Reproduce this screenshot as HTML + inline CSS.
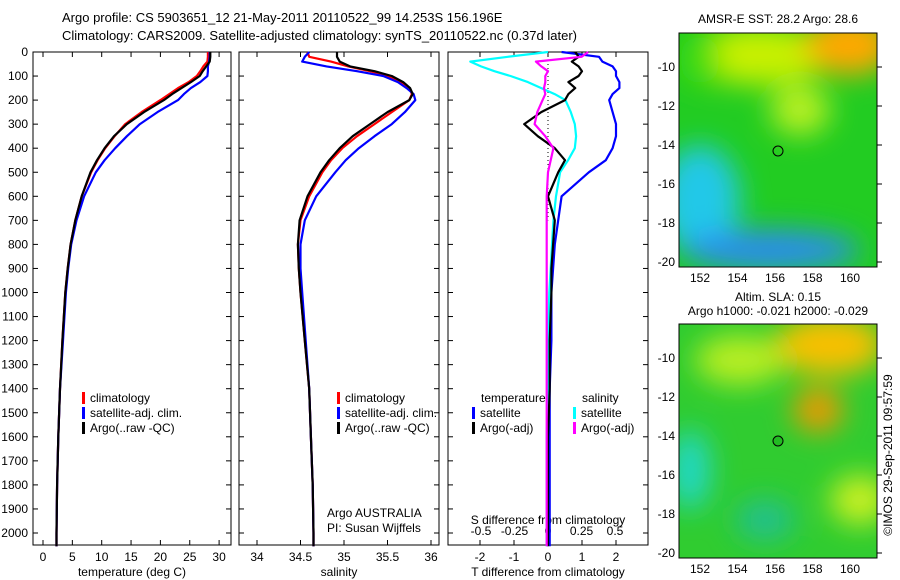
<!DOCTYPE html>
<html><head><meta charset="utf-8">
<style>
body{margin:0;background:#fff;}
svg{display:block;font-family:"Liberation Sans",sans-serif;font-size:12px;}
</style></head>
<body>
<svg id="c" width="900" height="580" viewBox="0 0 900 580">
<defs>
<filter id="bl" x="-50%" y="-50%" width="200%" height="200%"><feGaussianBlur stdDeviation="14"/></filter>
<clipPath id="cm1"><rect x="679" y="33" width="198" height="234"/></clipPath>
<clipPath id="cm2"><rect x="679" y="324" width="198" height="234"/></clipPath>
</defs>
<text x="62" y="22" font-size="13">Argo profile: CS 5903651_12 21-May-2011 20110522_99 14.253S 156.196E</text>
<text x="62" y="40" font-size="13">Climatology: CARS2009. Satellite-adjusted climatology: synTS_20110522.nc (0.37d later)</text>
<g id="g"></g>
<g clip-path="url(#cm1)">
<rect x="679" y="33" width="198" height="234" fill="#22cc22"/>
<g filter="url(#bl)">
<ellipse cx="760" cy="55" rx="70" ry="30" fill="#c8f000"/>
<ellipse cx="850" cy="45" rx="45" ry="30" fill="#ffa800"/>
<ellipse cx="800" cy="110" rx="30" ry="25" fill="#b8f020"/>
<ellipse cx="700" cy="200" rx="40" ry="55" fill="#22c8e8"/>
<ellipse cx="770" cy="250" rx="90" ry="20" fill="#2a8cf0"/>
<ellipse cx="700" cy="60" rx="20" ry="25" fill="#44dd11"/>
</g>
</g>
<rect x="679" y="33" width="198" height="234" fill="none" stroke="#000"/>
<circle cx="778" cy="151" r="5" fill="none" stroke="#000"/>
<text x="778" y="23" text-anchor="middle">AMSR-E SST: 28.2 Argo: 28.6</text>
<g clip-path="url(#cm2)">
<rect x="679" y="324" width="198" height="234" fill="#30cc30"/>
<g filter="url(#bl)">
<ellipse cx="830" cy="345" rx="55" ry="30" fill="#f8c000"/>
<ellipse cx="818" cy="410" rx="25" ry="22" fill="#ee9900"/>
<ellipse cx="740" cy="360" rx="45" ry="25" fill="#b8ee20"/>
<ellipse cx="860" cy="500" rx="30" ry="25" fill="#c8f020"/>
<ellipse cx="690" cy="470" rx="20" ry="40" fill="#22d8c8"/>
<ellipse cx="765" cy="520" rx="30" ry="20" fill="#22c090"/>
</g>
</g>
<rect x="679" y="324" width="198" height="234" fill="none" stroke="#000"/>
<circle cx="778" cy="441" r="5" fill="#22bb22" stroke="#000"/>
<text x="778" y="301" text-anchor="middle">Altim. SLA: 0.15</text>
<text x="778" y="315" text-anchor="middle">Argo h1000: -0.021 h2000: -0.029</text>
<text transform="translate(892,455) rotate(-90)" text-anchor="middle">©IMOS 29-Sep-2011 09:57:59</text>
</svg>
<script>
const depths=[0,20,40,60,80,100,125,150,175,200,250,300,350,400,450,500,600,700,800,900,1000,1200,1400,1600,1800,2000,2055];
const tempClim=[28.1,28.1,28.0,27.3,26.8,26.2,24.8,23.0,21.5,20.0,16.8,14.0,12.2,10.6,9.3,8.2,6.6,5.5,4.7,4.2,3.8,3.3,2.9,2.6,2.4,2.3,2.3];
const tempSat=[28.4,28.4,28.3,28.1,28.1,28.0,26.8,25.2,24.0,23.0,19.5,16.5,14.3,12.3,10.5,9.0,7.0,5.7,4.8,4.3,3.9,3.4,2.9,2.6,2.4,2.3,2.3];
const tempArgo=[28.5,28.5,28.4,27.8,27.2,26.7,25.2,23.6,22.0,20.6,17.2,14.3,12.1,10.5,9.2,8.1,6.6,5.5,4.7,4.2,3.8,3.3,2.9,2.6,2.4,2.3,2.3];
const salClim=[34.58,34.6,34.85,35.05,35.3,35.5,35.65,35.75,35.78,35.75,35.55,35.35,35.15,34.98,34.85,34.75,34.6,34.5,34.47,34.48,34.5,34.55,34.6,34.62,34.64,34.65,34.65];
const salSat=[34.6,34.55,34.52,34.8,35.15,35.45,35.62,35.72,35.8,35.82,35.7,35.55,35.35,35.17,35.02,34.9,34.68,34.55,34.5,34.5,34.52,34.56,34.6,34.62,34.64,34.65,34.65];
const salArgo=[34.92,34.92,34.95,35.07,35.35,35.55,35.68,35.76,35.79,35.75,35.5,35.3,35.1,34.95,34.83,34.73,34.58,34.49,34.47,34.48,34.5,34.55,34.6,34.62,34.64,34.65,34.65];
const tDiffSat=[0.4,1.5,1.6,1.9,2.0,2.0,2.1,2.1,1.9,1.8,1.9,2.0,2.0,1.9,1.7,1.2,0.4,0.3,0.2,0.15,0.1,0.1,0.05,0.05,0.05,0.05,0.05];
const tDiffArgo=[0.8,0.9,0.7,0.9,1.0,0.9,0.6,0.8,0.6,0.5,-0.2,-0.7,-0.3,0.2,0.5,0.3,0.0,0.2,0.15,0.1,0.1,0.05,0.05,0.0,0.0,0.0,0.0];
const sDiffSat=[0.0,-0.3,-0.58,-0.5,-0.4,-0.28,-0.15,-0.05,0.05,0.13,0.17,0.2,0.21,0.2,0.15,0.09,0.06,0.04,0.03,0.02,0.01,0.0,0.0,-0.01,-0.01,-0.01,-0.01];
const sDiffArgo=[0.3,0.25,-0.09,-0.05,0.0,-0.02,-0.02,-0.03,-0.02,-0.04,-0.08,-0.1,-0.02,0.04,0.02,0.0,-0.01,-0.01,-0.01,-0.01,-0.01,-0.01,-0.01,-0.01,-0.01,-0.01,-0.01];
const depthTicks=[0,100,200,300,400,500,600,700,800,900,1000,1100,1200,1300,1400,1500,1600,1700,1800,1900,2000];
const tempTicks=[0,5,10,15,20,25,30];
const salTicks=[34,34.5,35,35.5,36];
const tdTicks=[-2,-1,0,1,2];
const sdTicks=[-0.5,-0.25,0,0.25,0.5];

const NS='http://www.w3.org/2000/svg';
const G=document.getElementById('g');
function mk(tag,attrs,parent){const e=document.createElementNS(NS,tag);for(const k in attrs)e.setAttribute(k,attrs[k]);(parent||G).appendChild(e);return e;}
const TOP=52,BOT=545;
const yD=d=>TOP+d*0.2405;
const xT=v=>43+v*5.87;
const xS=v=>257+(v-34)*87;
const xTD=v=>548+v*34;
const xSD=v=>548+v*134;
const panels=[[33,231],[239,439],[448,648]];

function frame(i,name){
  const [l,r]=panels[i];
  const f=mk('rect',{x:l,y:TOP,width:r-l,height:BOT-TOP,fill:'none',stroke:'#000'});
  
  
  depthTicks.forEach(d=>{
    const t=mk('line',{x1:l,x2:l+5,y1:yD(d),y2:yD(d),stroke:'#000'});
    
    
    const t2=mk('line',{x1:r-5,x2:r,y1:yD(d),y2:yD(d),stroke:'#000'});
    
    
  });
}
frame(0,'temperature-panel');frame(1,'salinity-panel');frame(2,'difference-panel');
depthTicks.forEach(d=>{
  const t=mk('text',{x:28,y:yD(d)+4,'text-anchor':'end'});
  t.textContent=d;
  
  
});
function xticks(ticks,fx,y,name,topTicks){
  ticks.forEach(v=>{
    const x=fx(v);
    const l=mk('line',{x1:x,x2:x,y1:BOT-5,y2:BOT,stroke:'#000'});
    
    
    if(topTicks){const l2=mk('line',{x1:x,x2:x,y1:TOP,y2:TOP+5,stroke:'#000'});
      
      }
    const t=mk('text',{x:x,y:y,'text-anchor':'middle'});
    t.textContent=v;
    
    
  });
}
xticks(tempTicks,xT,561,'temperature',true);
xticks(salTicks,xS,561,'salinity',true);
xticks(tdTicks,xTD,561,'t-diff',true);
sdTicks.forEach(v=>{
  const t=mk('text',{x:xSD(v),y:535,'text-anchor':'middle'});
  t.textContent=v;
  
  
});
function label(x,y,s,name,anchor){const t=mk('text',{x:x,y:y,'text-anchor':anchor||'middle'});t.textContent=s;
  
  return t;}
label(132,576,'temperature (deg C)','temperature-axis-title');
label(339,576,'salinity','salinity-axis-title');
label(548,576,'T difference from climatology','t-diff-axis-title');
label(548,524,'S difference from climatology','s-diff-axis-title');
label(327,517,'Argo AUSTRALIA','institution-label','start');
label(327,532,'PI: Susan Wijffels','pi-label','start');
const z=mk('line',{x1:548,x2:548,y1:TOP,y2:yD(700),stroke:'#000','stroke-dasharray':'1,3'});



function line(vals,fx,color,name,w){
  const pts=vals.map((v,i)=>fx(v).toFixed(1)+','+yD(depths[i]).toFixed(1)).join(' ');
  const p=mk('polyline',{points:pts,fill:'none',stroke:color,'stroke-width':w||2.2,'stroke-linejoin':'round'});
  
  
}
line(tempClim,xT,'#ff0000','temp-climatology-line');
line(tempSat,xT,'#0000ff','temp-satellite-line');
line(tempArgo,xT,'#000000','temp-argo-line');
line(salClim,xS,'#ff0000','sal-climatology-line');
line(salSat,xS,'#0000ff','sal-satellite-line');
line(salArgo,xS,'#000000','sal-argo-line');
line(tDiffSat,xTD,'#0000ff','t-diff-satellite-line');
line(sDiffSat,xSD,'#00ffff','s-diff-satellite-line');
line(tDiffArgo,xTD,'#000000','t-diff-argo-line');
line(sDiffArgo,xSD,'#ff00ff','s-diff-argo-line');

function legend(x,y,color,text,name){
  const r=mk('rect',{x:x,y:y-10,width:3,height:12,fill:color});
  
  
  label(x+8,y,text,name,'start');
}
legend(82,402,'#ff0000','climatology','legend-climatology');
legend(82,417,'#0000ff','satellite-adj. clim.','legend-satellite');
legend(82,432,'#000000','Argo(..raw -QC)','legend-argo');
legend(337,402,'#ff0000','climatology','legend-climatology-2');
legend(337,417,'#0000ff','satellite-adj. clim.','legend-satellite-2');
legend(337,432,'#000000','Argo(..raw -QC)','legend-argo-2');
label(481,402,'temperature','legend-temperature-header','start');
legend(472,417,'#0000ff','satellite','legend-t-satellite');
legend(472,432,'#000000','Argo(-adj)','legend-t-argo');
label(582,402,'salinity','legend-salinity-header','start');
legend(573,417,'#00ffff','satellite','legend-s-satellite');
legend(573,432,'#ff00ff','Argo(-adj)','legend-s-argo');

const mapLon=[152,154,156,158,160];
const mapLat=[-10,-12,-14,-16,-18,-20];
const xLon=v=>700+(v-152)*18.75;
function mapAxes(latRef,yRef,ybot,name){
  mapLon.forEach(v=>{
    const l=mk('line',{x1:xLon(v),x2:xLon(v),y1:ybot-4,y2:ybot,stroke:'#000'});
    
    
    label(xLon(v),ybot+15,v,name+'-lon-label');
  });
  mapLat.forEach(v=>{
    const y=yRef+(latRef-v)*19.5;
    const l=mk('line',{x1:877,x2:882,y1:y,y2:y,stroke:'#000'});
    
    
    label(675,y+4,v,name+'-lat-label','end');
  });
}
mapAxes(-10,67,267,'sst-map');
mapAxes(-12,397,558,'sla-map');
</script>
</body></html>
